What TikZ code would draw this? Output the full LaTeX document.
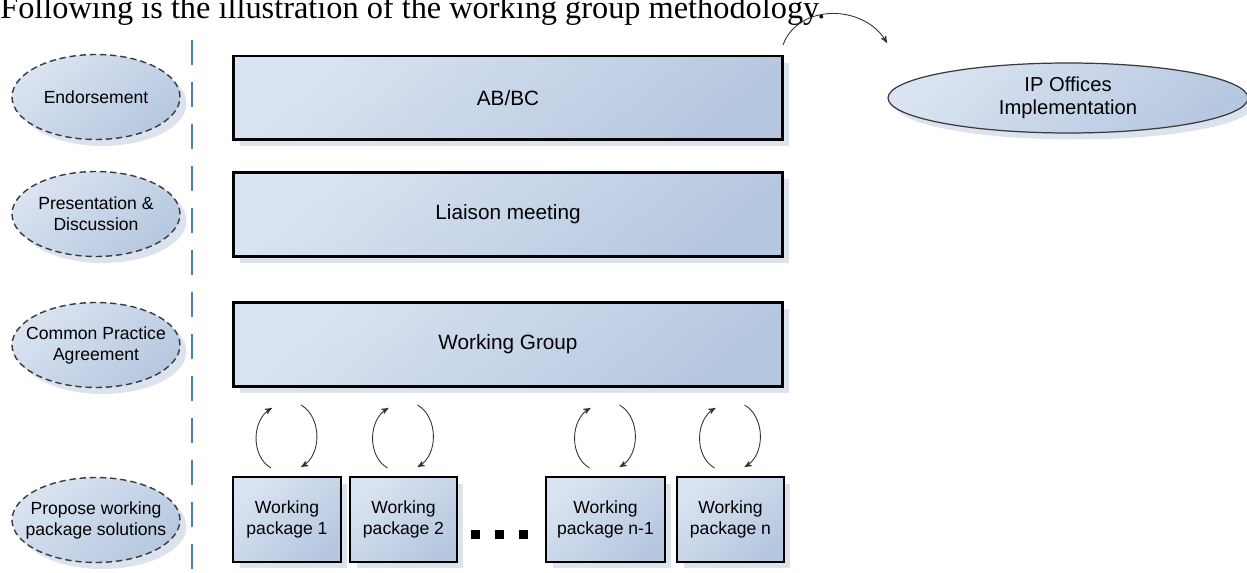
\documentclass[tikz,border=0pt]{standalone}
\usepackage{fontspec}
\setmainfont{Liberation Sans}
\newfontfamily\serifhead{Liberation Serif}
\usepackage{xcolor}
\usepackage{tikz}
\usetikzlibrary{arrows}
\usetikzlibrary{shapes.geometric}
\usetikzlibrary{shadows}
\definecolor{fillhi}{HTML}{DAE3F1}
\definecolor{filllo}{HTML}{B6C8E0}
\definecolor{shadowblue}{HTML}{DCE3EE}
\definecolor{sepblue}{HTML}{4F7CB8}
\definecolor{rimgray}{HTML}{3A3A3A}
\tikzset{
    tnode/.style = {align=center, inner sep=0pt, text centered},
    bluefill/.style = {top color=fillhi, bottom color=filllo, shading angle=40,
        drop shadow={shadow xshift=0.13cm, shadow yshift=-0.13cm, fill=shadowblue, opacity=1}},
    phase/.style = {tnode, ellipse, bluefill, draw=rimgray, line width=0.8pt, dash pattern=on 3.6pt off 2.2pt,
        inner xsep=-0.6cm, inner ysep=-0.3cm,
        minimum width=3.36cm, minimum height=1.7cm, font=\fontsize{10}{12}\selectfont},
    body/.style = {tnode, rectangle, bluefill, draw=black, line width=1.7pt,
        minimum width=11cm, minimum height=1.68cm, font=\fontsize{11.8}{14}\selectfont},
    package/.style = {tnode, rectangle, bluefill, draw=black, line width=1.6pt,
        minimum height=1.7cm, font=\fontsize{10}{11.5}\selectfont},
    office/.style = {tnode, ellipse, bluefill, draw=rimgray, line width=0.7pt,
        inner xsep=-0.6cm, inner ysep=-0.3cm,
        minimum width=7.2cm, minimum height=1.4cm, font=\fontsize{11.5}{13}\selectfont},
    dotbox/.style = {rectangle, fill=black, inner sep=0pt, minimum size=0.18cm},
    sepline/.style = {draw=sepblue, line width=1.1pt, dash pattern=on 14.2pt off 9.7pt},
    cycle/.style = {->, draw=black!80, line width=0.5pt}
}

\begin{document}
\begin{tikzpicture}
    [x=0.02cm, y=0.02cm, >=stealth']
    \useasboundingbox (0,0) rectangle (1247,572);

    \node [anchor=base west, inner sep=0pt, font=\serifhead\fontsize{18.4}{22}\selectfont]
        (title) at (0,553) {Following is the illustration of the working group methodology.};

    % separator between phases and bodies
    \coordinate (septop) at (192,532);
    \coordinate (sepbot) at (192,0);
    \draw [sepline] (septop) -- (sepbot);

    \node [phase] (endorse) at (96,475) {Endorsement};
    \node [phase] (present) at (96,358) {Presentation \&\\Discussion};
    \node [phase] (agree)   at (96,227) {Common Practice\\Agreement};
    \node [phase] (propose) at (96,52)  {Propose working\\package solutions};

    \node [body] (abbc)    at (508,474)   {AB/BC};
    \node [body] (liaison) at (508,357.5) {Liaison meeting};
    \node [body] (wg)      at (508,227.5) {Working Group};

    \node [office] (ipo) at (1068,474) {IP Offices\\Implementation};

    \coordinate (abtail) at (783,527);
    \coordinate (iphead) at (887,529);
    \draw [cycle] (abtail) to[out=70, in=120, looseness=1.1] (iphead);

    \foreach \wp/\cx/\w/\nr in {wpa/287/2.16/1, wpb/403.5/2.14/2, wpm/605.5/2.38/n-1, wpn/730.5/2.14/n} {
        \node [package, minimum width=\w cm] (\wp) at (\cx,52.5) {Working\\package \nr};
        \coordinate (\wp-up0) at (\cx-16,104);
        \coordinate (\wp-up1) at (\cx-15,164);
        \coordinate (\wp-dn0) at (\cx+14,167);
        \coordinate (\wp-dn1) at (\cx+14,105);
        \draw [cycle] (\wp-up0) to[out=150, in=210] (\wp-up1);
        \draw [cycle] (\wp-dn0) to[out=-30, in=30] (\wp-dn1);
    }

    \foreach \dx in {475,499.5,523.5}
        \node [dotbox] (dot\dx) at (\dx,38) {};
\end{tikzpicture}
\end{document}
